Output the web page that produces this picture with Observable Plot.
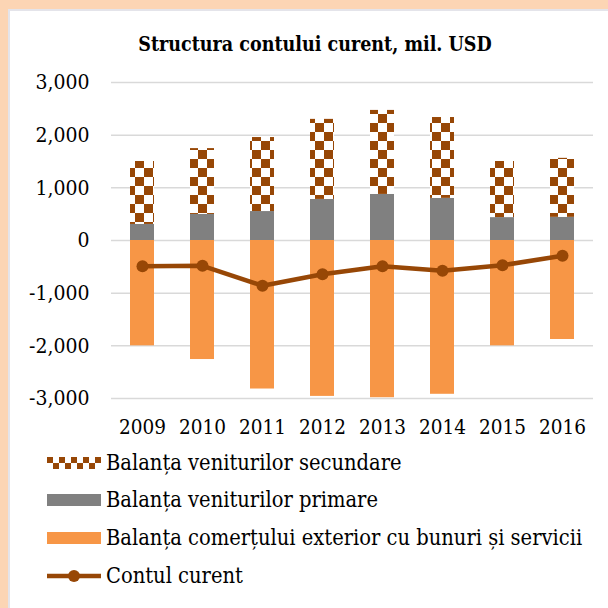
<!DOCTYPE html>
<html><head><meta charset="utf-8">
<script src="https://cdn.jsdelivr.net/npm/d3@7"></script>
<script src="https://cdn.jsdelivr.net/npm/@observablehq/plot@0.6"></script>
<style>
html,body{margin:0;padding:0;}
body{width:608px;height:608px;background:#FCD5B4;position:relative;overflow:hidden;font-family:"DejaVu Serif Condensed","DejaVu Serif",serif;color:#000;}
#panel{position:absolute;left:8px;top:9px;width:600px;height:599px;background:#fff;border-left:2px solid #E4E4EA;border-top:2px solid #E4E4EA;box-sizing:border-box;}
#title{position:absolute;left:0;width:630px;top:35px;text-align:center;font-weight:bold;font-size:19.5px;line-height:20px;}
#chart{position:absolute;left:0;top:60px;}
.row{position:absolute;left:47px;white-space:nowrap;font-size:21.7px;height:26px;line-height:26px;display:flex;align-items:center;}
.row svg{margin-right:5px;flex:none;}
</style></head><body>
<svg width="0" height="0" style="position:absolute">
  <defs>
    <pattern id="checker" patternUnits="userSpaceOnUse" width="18" height="18">
      <rect width="18" height="18" fill="#fff"/>
      <rect width="9" height="9" fill="#974706"/>
      <rect x="9" y="9" width="9" height="9" fill="#974706"/>
    </pattern>
    <pattern id="checkerSmall" patternUnits="userSpaceOnUse" width="12" height="12">
      <rect width="12" height="12" fill="#fff"/>
      <rect width="6" height="6" fill="#974706"/>
      <rect x="6" y="6" width="6" height="6" fill="#974706"/>
    </pattern>
  </defs>
</svg>
<div id="panel"></div>
<div id="title">Structura contului curent, mil. USD</div>
<div id="chart"></div>
<div id="legend"></div>
<script>
const years = ["2009","2010","2011","2012","2013","2014","2015","2016"];
const trade = [-2000,-2260,-2820,-2960,-2985,-2920,-2000,-1880];
const primary = [305,495,550,780,875,800,435,440];
const secondary = [1195,1250,1405,1520,1595,1535,1065,1120];
const current = [-490,-480,-860,-640,-490,-575,-470,-290];
const yTicks = [-3000,-2000,-1000,0,1000,2000,3000];
const seriesNames = ["Balanța veniturilor secundare","Balanța veniturilor primare","Balanța comerțului exterior cu bunuri și servicii","Contul curent"];

const brown = "#974706", orange = "#F79646", gray = "#808080";
const data = years.map((year,i)=>({year, trade:trade[i], primary:primary[i], secondary:secondary[i], top:primary[i]+secondary[i], current:current[i]}));
const fmt = d => d3.format(",")(d).replace("\u2212","-");
const font = "DejaVu Serif Condensed";

const chart = Plot.plot({
  width:608, height:380,
  marginTop:22, marginBottom:42, marginLeft:111, marginRight:15,
  style:{fontFamily:font, fontSize:"21px", color:"#000", background:"transparent"},
  x:{domain:years, paddingInner:0.6, paddingOuter:0.3, label:null},
  y:{domain:[-3000,3000], label:null},
  marks:[
    Plot.gridY(yTicks,{stroke:"#D9D9D9", strokeOpacity:1, strokeWidth:1.5}),
    Plot.barY(data,{x:"year", y1:0, y2:"trade", fill:orange}),
    Plot.barY(data,{x:"year", y1:0, y2:"primary", fill:gray}),
    Plot.barY(data,{x:"year", y1:"primary", y2:"top", fill:"url(#checker)"}),
    Plot.line(data,{x:"year", y:"current", stroke:brown, strokeWidth:4.5}),
    Plot.dot(data,{x:"year", y:"current", r:6, fill:brown}),
    Plot.axisX({tickSize:0, tickPadding:21, label:null, fontSize:20.5, fill:"#000"}),
    Plot.axisY({ticks:yTicks, tickFormat:fmt, tickSize:0, tickPadding:22, label:null, fontSize:21, fill:"#000"})
  ]
});
document.getElementById("chart").appendChild(chart);

const swatches = [
  `<svg width="54" height="12"><rect width="54" height="12" fill="url(#checkerSmall)"/></svg>`,
  `<svg width="54" height="12"><rect width="54" height="12" fill="${gray}"/></svg>`,
  `<svg width="54" height="12"><rect width="54" height="12" fill="${orange}"/></svg>`,
  `<svg width="54" height="14"><line x1="0" x2="54" y1="7" y2="7" stroke="${brown}" stroke-width="4.5"/><circle cx="27" cy="7" r="6" fill="${brown}"/></svg>`
];
const rowY = [463,500,538,576];
const legend = document.getElementById("legend");
seriesNames.forEach((name,i)=>{
  const div = document.createElement("div");
  div.className = "row";
  div.style.top = (rowY[i]-13)+"px";
  div.innerHTML = swatches[i] + `<span>${name}</span>`;
  legend.appendChild(div);
});
</script>
</body></html>
